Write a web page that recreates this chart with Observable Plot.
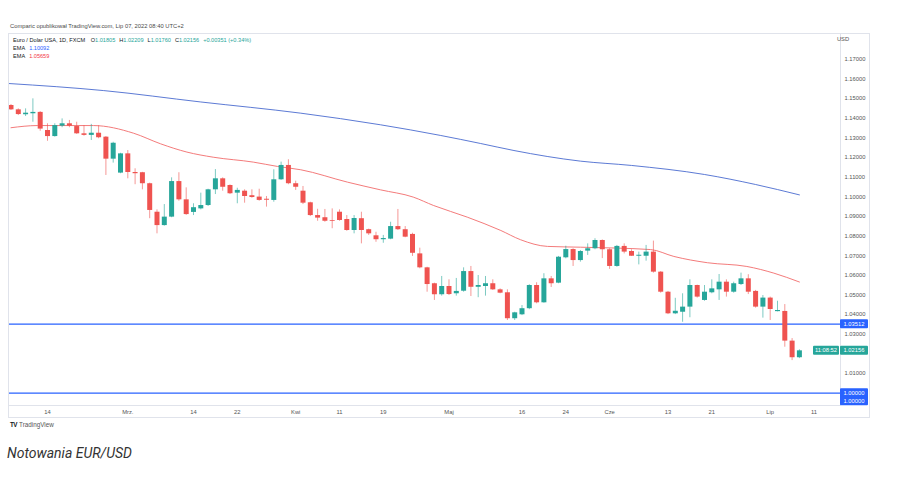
<!DOCTYPE html>
<html><head><meta charset="utf-8">
<script src="https://cdn.jsdelivr.net/npm/d3@7"></script>
<script src="https://cdn.jsdelivr.net/npm/@observablehq/plot@0.6"></script>
<style>
body{margin:0;background:#fff;font-family:"Liberation Sans",Arial,sans-serif;}
#wrap{position:relative;width:897px;height:483px;overflow:hidden;background:#fff}
#hdr{position:absolute;left:10px;top:22px;font-size:5.8px;line-height:8px;color:#4a4a4a;white-space:nowrap}
#chart{position:absolute;left:0;top:33px}
#border{position:absolute;left:8px;top:33px;width:862px;height:385px;border:1px solid #e0e3eb;box-sizing:border-box;pointer-events:none}
#legend{position:absolute;left:13px;top:35.5px;font-size:5.6px;line-height:8.2px;color:#131722;white-space:nowrap}
#legend .g{color:#26a69a}
#legend .b{color:#2962ff}
#legend .r{color:#f23645}
#legend .sp{display:inline-block;width:4px}
#tv{position:absolute;left:10px;top:421px;font-size:6.3px;line-height:8px;color:#555;white-space:nowrap}
#tv b{color:#131722;font-weight:900;letter-spacing:-0.5px;margin-right:2px}
#cap{position:absolute;left:7px;top:444px;font-family:Roboto,"Open Sans",sans-serif;font-style:italic;font-size:14px;line-height:18px;color:#333}
</style></head><body>
<div id="wrap">
  <div id="hdr">Comparic opublikował TradingView.com, Lip 07, 2022 08:40 UTC+2</div>
  <div id="chart"></div>
  <div id="border"></div>
  <div id="legend"></div>
  <div id="tv"><b>TV</b>TradingView</div>
  <div id="cap">Notowania EUR/USD</div>
</div>
<script>
// ---- data (daily candles, EUR/USD, FXCM) ----
const dates = [
 "2022-02-07","2022-02-08","2022-02-09","2022-02-10","2022-02-11","2022-02-14","2022-02-15","2022-02-16","2022-02-17","2022-02-18",
 "2022-02-21","2022-02-22","2022-02-23","2022-02-24","2022-02-25","2022-02-28","2022-03-01","2022-03-02","2022-03-03","2022-03-04",
 "2022-03-07","2022-03-08","2022-03-09","2022-03-10","2022-03-11","2022-03-14","2022-03-15","2022-03-16","2022-03-17","2022-03-18",
 "2022-03-21","2022-03-22","2022-03-23","2022-03-24","2022-03-25","2022-03-28","2022-03-29","2022-03-30","2022-03-31","2022-04-01",
 "2022-04-04","2022-04-05","2022-04-06","2022-04-07","2022-04-08","2022-04-11","2022-04-12","2022-04-13","2022-04-14","2022-04-15",
 "2022-04-18","2022-04-19","2022-04-20","2022-04-21","2022-04-22","2022-04-25","2022-04-26","2022-04-27","2022-04-28","2022-04-29",
 "2022-05-02","2022-05-03","2022-05-04","2022-05-05","2022-05-06","2022-05-09","2022-05-10","2022-05-11","2022-05-12","2022-05-13",
 "2022-05-16","2022-05-17","2022-05-18","2022-05-19","2022-05-20","2022-05-23","2022-05-24","2022-05-25","2022-05-26","2022-05-27",
 "2022-05-30","2022-05-31","2022-06-01","2022-06-02","2022-06-03","2022-06-06","2022-06-07","2022-06-08","2022-06-09","2022-06-10",
 "2022-06-13","2022-06-14","2022-06-15","2022-06-16","2022-06-17","2022-06-20","2022-06-21","2022-06-22","2022-06-23","2022-06-24",
 "2022-06-27","2022-06-28","2022-06-29","2022-06-30","2022-07-01","2022-07-04","2022-07-05","2022-07-06","2022-07-07"];

const open = [
 1.1464,1.1442,1.1417,1.1422,1.1429,1.1337,1.1306,1.1359,1.1371,1.1357,
 1.1320,1.1312,1.1323,1.1303,1.1191,1.1120,1.1218,1.1123,1.1122,1.1066,
 1.0921,1.0853,1.0896,1.1077,1.0984,1.0920,1.0938,1.0955,1.1035,1.1091,
 1.1057,1.1018,1.1028,1.1005,1.0998,1.0987,1.0981,1.1086,1.1159,1.1066,
 1.1028,1.0969,1.0904,1.0893,1.0879,1.0921,1.0884,1.0828,1.0888,1.0832,
 1.0801,1.0781,1.0784,1.0848,1.0832,1.0808,1.0709,1.0638,1.0557,1.0501,
 1.0543,1.0506,1.0519,1.0619,1.0539,1.0543,1.0557,1.0526,1.0511,1.0379,
 1.0399,1.0430,1.0548,1.0460,1.0582,1.0560,1.0689,1.0731,1.0675,1.0723,
 1.0735,1.0777,1.0730,1.0645,1.0747,1.0721,1.0697,1.0697,1.0718,1.0616,
 1.0514,1.0404,1.0412,1.0438,1.0548,1.0472,1.0511,1.0526,1.0565,1.0514,
 1.0553,1.0582,1.0518,1.0438,1.0484,1.0415,1.0416,1.0265,1.01805];
const high = [
 1.1469,1.1447,1.1447,1.1498,1.1433,1.1371,1.1371,1.1396,1.1388,1.1379,
 1.1362,1.1368,1.1362,1.1306,1.1277,1.1221,1.1235,1.1142,1.1124,1.1069,
 1.0933,1.0960,1.1096,1.1122,1.1045,1.0964,1.1018,1.1038,1.1138,1.1096,
 1.1060,1.1043,1.1035,1.1035,1.1038,1.1001,1.1137,1.1176,1.1188,1.1079,
 1.1052,1.0972,1.0936,1.0935,1.0938,1.0933,1.0904,1.0904,1.0921,1.0835,
 1.0819,1.0803,1.0870,1.0935,1.0848,1.0814,1.0738,1.0641,1.0560,1.0594,
 1.0577,1.0584,1.0638,1.0645,1.0599,1.0594,1.0577,1.0531,1.0526,1.0412,
 1.0446,1.0552,1.0562,1.0608,1.0594,1.0696,1.0748,1.0735,1.0726,1.0760,
 1.0786,1.0780,1.0735,1.0752,1.0760,1.0730,1.0718,1.0752,1.0774,1.0619,
 1.0518,1.0483,1.0506,1.0577,1.0550,1.0548,1.0577,1.0604,1.0577,1.0565,
 1.0611,1.0603,1.0523,1.0497,1.0489,1.0468,1.0451,1.0278,1.02209];
const low = [
 1.1439,1.1413,1.1408,1.1379,1.1333,1.1282,1.1303,1.1351,1.1351,1.1317,
 1.1308,1.1286,1.1295,1.1108,1.1171,1.1117,1.1091,1.1061,1.1035,1.0888,
 1.0811,1.0850,1.0893,1.0977,1.0905,1.0904,1.0933,1.0950,1.1011,1.1028,
 1.1011,1.0964,1.0967,1.0992,1.0977,1.0947,1.0972,1.1083,1.1061,1.1032,
 1.0960,1.0899,1.0875,1.0870,1.0837,1.0875,1.0824,1.0811,1.0760,1.0803,
 1.0768,1.0763,1.0781,1.0828,1.0791,1.0696,1.0633,1.0514,1.0472,1.0494,
 1.0497,1.0494,1.0514,1.0492,1.0486,1.0494,1.0523,1.0506,1.0370,1.0370,
 1.0395,1.0425,1.0455,1.0458,1.0538,1.0557,1.0684,1.0645,1.0667,1.0701,
 1.0730,1.0685,1.0630,1.0641,1.0709,1.0696,1.0653,1.0672,1.0611,1.0509,
 1.0400,1.0400,1.0361,1.0384,1.0484,1.0468,1.0506,1.0472,1.0489,1.0509,
 1.0548,1.0502,1.0433,1.0382,1.0370,1.0414,1.0234,1.0166,1.01760];
const close = [
 1.1442,1.1418,1.1425,1.1429,1.1344,1.1306,1.1362,1.1371,1.1359,1.1320,
 1.1312,1.1323,1.1300,1.1191,1.1272,1.1218,1.1123,1.1117,1.1066,1.0930,
 1.0853,1.0896,1.1077,1.0984,1.0909,1.0944,1.0955,1.1035,1.1091,1.1048,
 1.1015,1.1032,1.1001,1.0996,1.0981,1.0982,1.1086,1.1159,1.1066,1.1048,
 1.0967,1.0904,1.0891,1.0875,1.0875,1.0879,1.0828,1.0889,1.0828,1.0811,
 1.0781,1.0787,1.0848,1.0832,1.0794,1.0712,1.0638,1.0553,1.0501,1.0543,
 1.0502,1.0518,1.0619,1.0539,1.0548,1.0557,1.0526,1.0509,1.0379,1.0409,
 1.0430,1.0548,1.0460,1.0582,1.0557,1.0692,1.0731,1.0675,1.0721,1.0735,
 1.0777,1.0730,1.0645,1.0747,1.0718,1.0697,1.0702,1.0718,1.0616,1.0514,
 1.0404,1.0417,1.0438,1.0548,1.0489,1.0514,1.0531,1.0565,1.0514,1.0557,
 1.0582,1.0514,1.0438,1.0484,1.0426,1.0421,1.0265,1.01805,1.02156];

// EMA readings (bar position, value)
const emaSlowBar = [-0.3, 12.7, 26, 39.7, 50.6, 58.8, 64.3, 68.9, 78, 85, 95, 102, 108];
const emaSlowVal = [1.1576, 1.1540, 1.1482, 1.1425, 1.1366, 1.1312, 1.1271, 1.1235, 1.1181, 1.1159, 1.1113, 1.1062, 1.10092];
const emaFastBar = [0, 3.6, 11.3, 16.8, 20.5, 24.1, 27.7, 33.2, 36.5, 39.7, 46.1, 50.6, 55.1, 57.9, 62.5, 67.1, 69.8, 73.5, 78, 87.6, 90.8, 95.4, 100.8, 104.5, 108];
const emaFastVal = [1.1351, 1.1362, 1.1362, 1.1323, 1.1269, 1.1227, 1.1201, 1.1176, 1.1154, 1.1137, 1.1074, 1.1035, 1.0998, 1.0955, 1.0896, 1.0828, 1.0781, 1.0747, 1.0743, 1.0731, 1.0696, 1.0664, 1.0645, 1.0611, 1.05659];

// horizontal levels
const levels = [1.03512, 1.00000];

// axis ticks
const xTickBars = [5, 16, 25, 31, 39, 45, 51, 60, 70, 76, 82, 90, 96, 104, 110];
const xTickLabels = ["14","Mrz.","14","22","Kwi","11","19","Maj","16","24","Cze","13","21","Lip","11"];
const yTicks = [1.17,1.16,1.15,1.14,1.13,1.12,1.11,1.10,1.09,1.08,1.07,1.06,1.05,1.04,1.03,1.01];
const countdown = "11:08:52";

// ---- build ----
const UP = "#26a69a", DOWN = "#ef5350";
const candles = dates.map((d, i) => ({date: d, i, o: open[i], h: high[i], l: low[i], c: close[i],
  col: close[i] >= open[i] ? UP : DOWN}));
const emaSlow = emaSlowBar.map((b, k) => ({i: b, v: emaSlowVal[k]}));
const emaFast = emaFastBar.map((b, k) => ({i: b, v: emaFastVal[k]}));
const tickMap = new Map(xTickBars.map((b, k) => [b, xTickLabels[k]]));

const W = 897, H = 385, mL = 8, mR = 57, mT = 0, mB = 13;

const plot = Plot.plot({
  width: W, height: H, marginLeft: mL, marginRight: mR, marginTop: mT, marginBottom: mB,
  style: {fontFamily: '"Liberation Sans", Arial, sans-serif', fontSize: "5.8px", color: "#555", background: "transparent", overflow: "visible"},
  x: {type: "linear", domain: [-0.342, 113.63], ticks: xTickBars, tickFormat: d => tickMap.get(d), tickSize: 0, tickPadding: 4, label: null},
  y: {domain: [0.99374, 1.18305], axis: "right", ticks: yTicks, tickFormat: d => d.toFixed(5), tickSize: 0, tickPadding: 4, label: null},
  marks: [
    Plot.frame({stroke: "#e0e3eb"}),
    Plot.ruleY(levels, {stroke: "#2962ff", strokeWidth: 1.2}),
    Plot.line(emaSlow, {x: "i", y: "v", stroke: "#3f63cc", strokeWidth: 1, strokeOpacity: 0.85, curve: "monotone-x"}),
    Plot.line(emaFast, {x: "i", y: "v", stroke: "#f26d6d", strokeWidth: 1, strokeOpacity: 0.9, curve: "monotone-x"}),
    Plot.ruleX(candles, {x: "i", y1: "l", y2: "h", stroke: "col", strokeWidth: 1, strokeOpacity: 0.6}),
    Plot.ruleX(candles, {x: "i", y1: "o", y2: "c", stroke: "col", strokeWidth: 5})
  ]
});
document.getElementById("chart").appendChild(plot);

// price-axis tags drawn through the plot's y scale
const ys = plot.scale("y");
const svg = d3.select(plot);
const ax0 = W - mR;
function tag(value, texts, fill, x, w, hgt) {
  const y = ys.apply(value);
  const g = svg.append("g");
  g.append("rect").attr("x", x).attr("y", y - 4.5).attr("width", w).attr("height", hgt).attr("fill", fill).attr("rx", 1);
  texts.forEach((t, k) => g.append("text").attr("x", x + w / 2).attr("y", y + k * 8.3).attr("dy", "0.35em")
    .attr("text-anchor", "middle").attr("fill", "#fff").attr("font-size", "5.8px").text(t));
}
const last = candles[candles.length - 1];
svg.append("text").attr("x", ax0 + 3).attr("y", 6).attr("dy", "0.35em").attr("fill", "#555").attr("font-size", "5.8px").text("USD");
tag(levels[0], [levels[0].toFixed(5)], "#2962ff", ax0, 28, 9);
tag(last.c, [last.c.toFixed(5)], UP, ax0, 28, 9);
tag(last.c, [countdown], UP, ax0 - 27, 26, 9);
tag(levels[1], [levels[1].toFixed(5), levels[1].toFixed(5)], "#2962ff", ax0, 28, 17);

// legend
const prev = candles[candles.length - 2];
const chg = last.c - prev.c, pct = chg / prev.c * 100;
document.getElementById("legend").innerHTML =
  `Euro / Dolar USA, 1D, FXCM<span class="sp"></span> O<span class="g">${last.o.toFixed(5)}</span><span class="sp"></span>` +
  `H<span class="g">${last.h.toFixed(5)}</span><span class="sp"></span>L<span class="g">${last.l.toFixed(5)}</span><span class="sp"></span>` +
  `C<span class="g">${last.c.toFixed(5)}</span><span class="sp"></span><span class="g">${(chg>=0?"+":"−")}${Math.abs(chg).toFixed(5)} (${(chg>=0?"+":"−")}${Math.abs(pct).toFixed(2)}%)</span><br>` +
  `EMA<span class="sp"></span><span class="b">${emaSlowVal[emaSlowVal.length-1].toFixed(5)}</span><br>` +
  `EMA<span class="sp"></span><span class="r">${emaFastVal[emaFastVal.length-1].toFixed(5)}</span>`;
</script>
</body></html>
